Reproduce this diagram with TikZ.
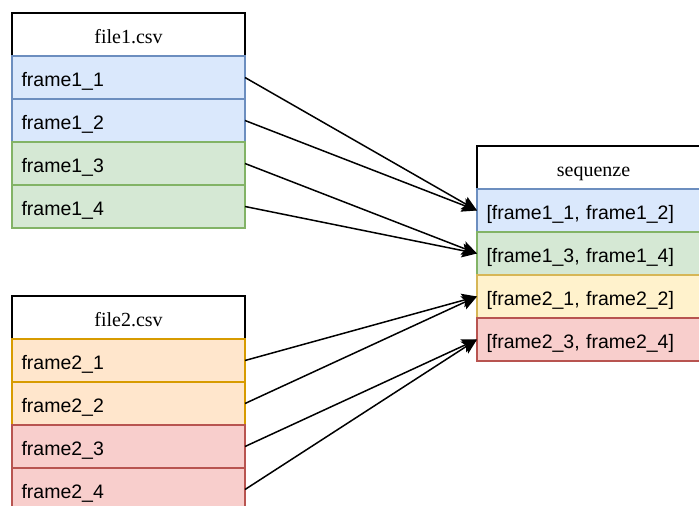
\documentclass[tikz,border=0pt]{standalone}
\usepackage{fontspec}
\setmainfont{Liberation Serif}
\newfontfamily\rowfont{Liberation Sans}
\usetikzlibrary{arrows.meta}

\definecolor{bluefill}{HTML}{DAE8FC}\definecolor{bluestroke}{HTML}{6C8EBF}
\definecolor{greenfill}{HTML}{D5E8D4}\definecolor{greenstroke}{HTML}{82B366}
\definecolor{orangefill}{HTML}{FFE6CC}\definecolor{orangestroke}{HTML}{D79B00}
\definecolor{yellowfill}{HTML}{FFF2CC}\definecolor{yellowstroke}{HTML}{D6B656}
\definecolor{redfill}{HTML}{F8CECC}\definecolor{redstroke}{HTML}{B85450}

\tikzset{
  cell/.style={rectangle, anchor=north west, minimum height=43pt, outer sep=0pt,
    line width=1.5pt, text height=19pt, text depth=2pt,
    font=\fontsize{20}{22}\selectfont},
  hdr/.style={cell, draw=black, fill=white, minimum width=233pt, inner sep=0pt},
  row/.style={cell, text width=214pt, inner xsep=9.5pt, inner ysep=0pt, align=left,
    font=\rowfont\fontsize{19.5}{22}\selectfont},
  bluerow/.style={row, fill=bluefill, draw=bluestroke},
  greenrow/.style={row, fill=greenfill, draw=greenstroke},
  orangerow/.style={row, fill=orangefill, draw=orangestroke},
  yellowrow/.style={row, fill=yellowfill, draw=yellowstroke},
  redrow/.style={row, fill=redfill, draw=redstroke},
  link/.style={line width=1.5pt, -{Stealth[length=15pt, width=14pt, inset=3pt]}}
}

\begin{document}
\begin{tikzpicture}[x=1pt, y=-1pt]
\useasboundingbox (0,0) rectangle (699,506);
\clip (0,0) rectangle (699,506);

% file1.csv
\node[hdr] (f1h) at (12,13) {file1.csv};
\node[bluerow] (f1a) at (12,56) {frame1\_1};
\node[bluerow] (f1b) at (12,99) {frame1\_2};
\node[greenrow] (f1c) at (12,142) {frame1\_3};
\node[greenrow] (f1d) at (12,185) {frame1\_4};

% file2.csv
\node[hdr] (f2h) at (12,296) {file2.csv};
\node[orangerow] (f2a) at (12,339) {frame2\_1};
\node[orangerow] (f2b) at (12,382) {frame2\_2};
\node[redrow] (f2c) at (12,425) {frame2\_3};
\node[redrow] (f2d) at (12,468) {frame2\_4};

% sequenze
\node[hdr] (sh) at (477,146) {sequenze};
\node[bluerow] (s1) at (477,189) {[frame1\_1, frame1\_2]};
\node[greenrow] (s2) at (477,232) {[frame1\_3, frame1\_4]};
\node[yellowrow] (s3) at (477,275) {[frame2\_1, frame2\_2]};
\node[redrow] (s4) at (477,318) {[frame2\_3, frame2\_4]};

% connectors
\draw[link] (f1a.east) -- (s1.west);
\draw[link] (f1b.east) -- (s1.west);
\draw[link] (f1c.east) -- (s2.west);
\draw[link] (f1d.east) -- (s2.west);
\draw[link] (f2a.east) -- (s3.west);
\draw[link] (f2b.east) -- (s3.west);
\draw[link] (f2c.east) -- (s4.west);
\draw[link] (f2d.east) -- (s4.west);
\end{tikzpicture}
\end{document}
